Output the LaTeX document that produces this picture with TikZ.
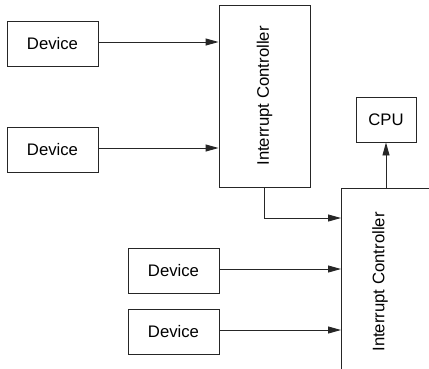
\documentclass[tikz,border=0pt]{standalone}
\usepackage{fontspec}
\setmainfont{Liberation Sans}
\usetikzlibrary{arrows.meta}
\tikzset{
  box/.style={draw=black!85, line width=0.9pt, fill=white, inner sep=0pt,
              font=\fontsize{16.7}{20}\selectfont},
  arr/.style={draw=black!85, line width=0.9pt, -{Triangle[length=13pt,width=7pt]}},
  lbl/.style={font=\fontsize{16.7}{20}\selectfont, inner sep=0pt}
}
\begin{document}
\begin{tikzpicture}[x=1pt,y=-1pt]
\useasboundingbox (0,0) rectangle (429,368);
\clip (0,0) rectangle (429,368);
% devices
\node[box, minimum width=91pt, minimum height=45pt] (d1) at (52.5,43.5) {Device};
\node[box, minimum width=91pt, minimum height=45pt] (d2) at (52.5,149.5) {Device};
\node[box, minimum width=91pt, minimum height=45pt] (d3) at (173.5,270.5) {Device};
\node[box, minimum width=91pt, minimum height=45pt] (d4) at (173.5,331.5) {Device};
% controllers
\node[box, minimum width=91pt, minimum height=182pt] (ic1) at (264.5,96)
  {\rotatebox{90}{Interrupt Controller}};
\node[box, anchor=north west, minimum width=140pt, minimum height=240pt] (ic2) at (341,188) {};
\node[lbl, rotate=90] (ic2t) at (380,282) {Interrupt Controller};
% cpu
\node[box, minimum width=60pt, minimum height=45pt] (cpu) at (386,119.5) {CPU};
% connections
\draw[arr] (d1.east |- 0,42) -- (ic1.west |- 0,42);
\draw[arr] (d2.east |- 0,148) -- (ic1.west |- 0,148);
\draw[arr] (ic1.south) |- (ic2.west |- 0,218);
\draw[arr] (d3.east |- 0,269) -- (ic2.west |- 0,269);
\draw[arr] (d4.east |- 0,330) -- (ic2.west |- 0,330);
\draw[arr] (cpu.south |- ic2.north) -- (cpu.south);
\end{tikzpicture}
\end{document}
